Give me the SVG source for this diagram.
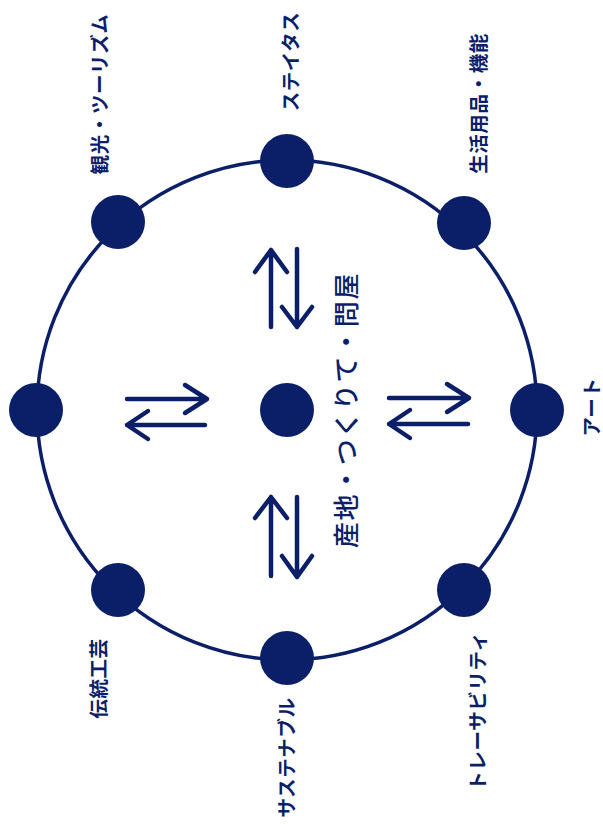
<svg xmlns="http://www.w3.org/2000/svg" width="603" height="832" viewBox="0 0 603 832">
<style>
.node{fill:#0b1f69;}
.ring{fill:none;stroke:#0b1f69;stroke-width:3.5;}
.arr{fill:none;stroke:#0b1f69;stroke-width:4.5;stroke-linecap:round;stroke-linejoin:round;}
.lbl{font-family:"Noto Sans CJK JP","Noto Sans",sans-serif;font-size:19.5px;font-weight:bold;letter-spacing:0.6px;fill:#0b1f69;text-anchor:middle;dominant-baseline:central;}
.ctr{font-family:"Noto Sans CJK JP","Noto Sans",sans-serif;font-size:26px;font-weight:500;letter-spacing:1.6px;fill:#0b1f69;text-anchor:middle;dominant-baseline:central;}
</style>
<rect width="603" height="832" fill="#ffffff"/>
<g id="connectors">
<circle class="ring" cx="287" cy="410" r="250"/>
<path class="arr" d="M271,327 V250 M255,272 L271,250 L287,272"/>
<path class="arr" d="M297,249 V327 M282,307 L297,327 L312,307"/>
<path class="arr" d="M271,576 V497 M255,518 L271,497 L287,518"/>
<path class="arr" d="M297,497 V577 M282,556 L297,577 L312,556"/>
<path class="arr" d="M127,399 H207 M185,385 L207,399 L185,413"/>
<path class="arr" d="M205,425 H127 M148,411 L127,425 L148,439"/>
<path class="arr" d="M389,398 H469 M447,384 L469,398 L447,412"/>
<path class="arr" d="M468,424 H389 M410,410 L389,424 L410,438"/>
</g>
<g id="center"><circle class="node" cx="287" cy="410" r="27"/><text class="ctr" transform="translate(344.5,410) rotate(-90)">産地・つくりて・問屋</text></g>
<g id="status"><circle class="node" cx="287" cy="161" r="27"/><text class="lbl" transform="translate(289.5,61.5) rotate(-90)">ステイタス</text></g>
<g id="goods"><circle class="node" cx="464" cy="223" r="27"/><text class="lbl" transform="translate(477.5,103.5) rotate(-90)">生活用品・機能</text></g>
<g id="art"><circle class="node" cx="537" cy="410" r="27"/><text class="lbl" transform="translate(590,407) rotate(-90)">アート</text></g>
<g id="trace"><circle class="node" cx="464" cy="590" r="27"/><text class="lbl" transform="translate(476.5,711) rotate(-90)">トレーサビリティ</text></g>
<g id="sustain"><circle class="node" cx="287" cy="658" r="27"/><text class="lbl" transform="translate(285,757.5) rotate(-90)">サステナブル</text></g>
<g id="craft"><circle class="node" cx="118" cy="590" r="27"/><text class="lbl" transform="translate(97.5,678.5) rotate(-90)">伝統工芸</text></g>
<g id="tourism"><circle class="node" cx="118" cy="222" r="27"/><text class="lbl" transform="translate(98,94) rotate(-90)">観光・ツーリズム</text></g>
<g id="left"><circle class="node" cx="36" cy="410" r="27"/></g>
</svg>
